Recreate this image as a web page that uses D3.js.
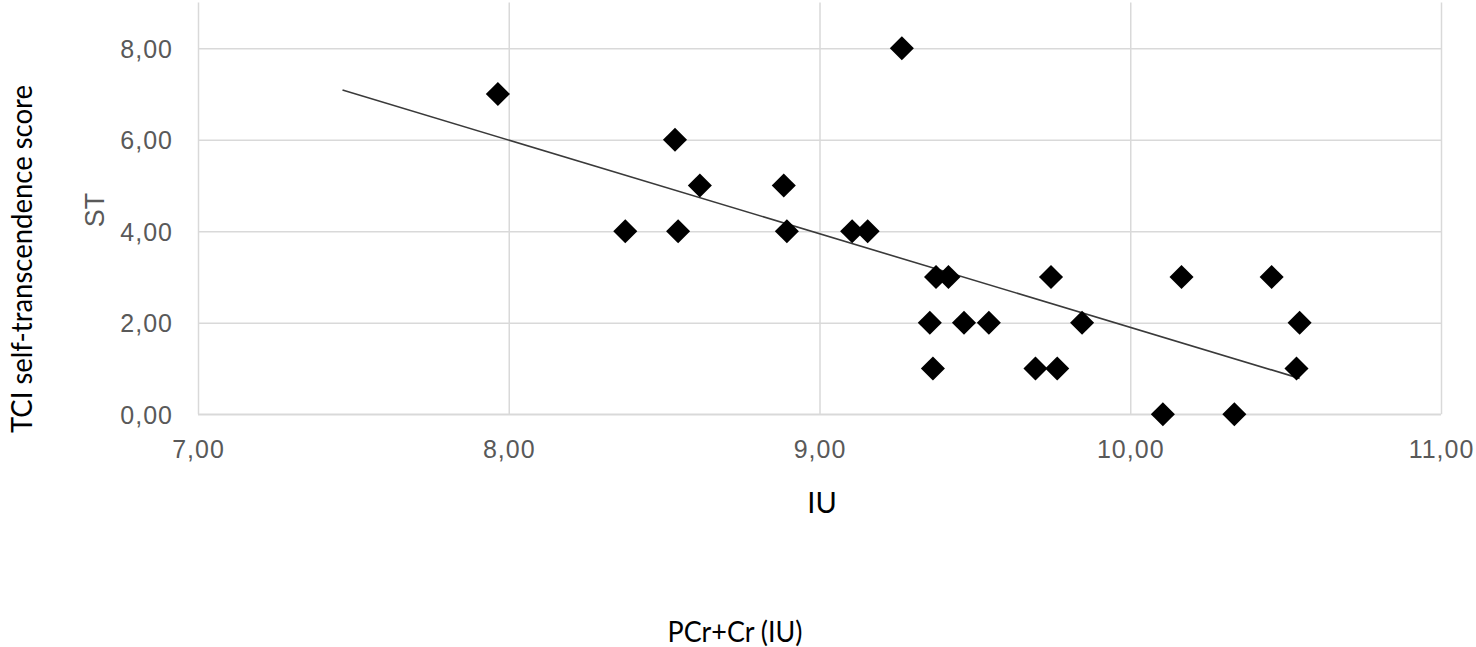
<!DOCTYPE html>
<html>
<head>
<meta charset="utf-8">
<script src="https://cdn.jsdelivr.net/npm/d3@7/dist/d3.min.js"></script>
<style>
  html, body { margin: 0; padding: 0; background: #fff; }
  svg { display: block; }
</style>
</head>
<body>
<svg id="chart" width="1476" height="647"></svg>
<script>
// ---- data ----
const pcrValues = [7.965, 9.265, 8.535, 8.615, 8.885, 8.375, 8.545, 8.895, 9.105, 9.155,
                   9.375, 9.415, 9.745, 10.165, 10.455, 9.355, 9.465, 9.545, 9.845, 10.545,
                   9.365, 9.695, 9.765, 10.535, 10.105, 10.335];
const stValues  = [7, 8, 6, 5, 5, 4, 4, 4, 4, 4,
                   3, 3, 3, 3, 3, 2, 2, 2, 2, 2,
                   1, 1, 1, 1, 0, 0];
const xTicks = [7, 8, 9, 10, 11];
const yTicks = [0, 2, 4, 6, 8];
const xDomain = [7, 11];
const yDomain = [0, 9];
const trendBackward = 0.5;   // trendline forecast backward (x units)

const points = pcrValues.map((x, i) => ({ x, y: stValues[i] }));

// ---- layout ----
const svg = d3.select("#chart");
const plot = { left: 198, right: 1441, top: 2.5, bottom: 414.3 };

const x = d3.scaleLinear().domain(xDomain).range([plot.left, plot.right]);
const y = d3.scaleLinear().domain(yDomain).range([plot.bottom, plot.top]);

const fmt = v => d3.format(".2f")(v).replace(".", ",");
const grid = "#d9d9d9";
const tickColor = "#595959";

// horizontal gridlines
const yAxis = d3.axisLeft(y).tickValues(yTicks).tickSize(-(plot.right - plot.left)).tickFormat(fmt).tickPadding(25);
const gy = svg.append("g").attr("transform", `translate(${plot.left},0)`).call(yAxis);
gy.select(".domain").remove();
gy.selectAll(".tick line").attr("stroke", grid).attr("stroke-width", 1.5);
gy.selectAll(".tick text")
  .attr("fill", tickColor)
  .style("font-family", "'Liberation Sans', Arial, sans-serif")
  .style("font-size", "25px")
  .style("letter-spacing", "1px")
  .attr("dy", "0.36em");

// vertical gridlines
const xAxis = d3.axisBottom(x).tickValues(xTicks).tickSize(-(plot.bottom - plot.top)).tickFormat(fmt).tickPadding(26);
const gx = svg.append("g").attr("transform", `translate(0,${plot.bottom})`).call(xAxis);
gx.select(".domain").remove();
gx.selectAll(".tick line").attr("stroke", grid).attr("stroke-width", 1.5);
gx.selectAll(".tick text")
  .attr("fill", tickColor)
  .style("font-family", "'Liberation Sans', Arial, sans-serif")
  .style("font-size", "25px")
  .style("letter-spacing", "1px");

// bottom axis line
svg.append("line")
  .attr("x1", x(xDomain[0])).attr("x2", x(xDomain[1]))
  .attr("y1", y(0)).attr("y2", y(0))
  .attr("stroke", grid).attr("stroke-width", 1.5);

// ---- linear trendline (least squares) ----
const mx = d3.mean(pcrValues), my = d3.mean(stValues);
let sxy = 0, sxx = 0;
points.forEach(p => { sxy += (p.x - mx) * (p.y - my); sxx += (p.x - mx) ** 2; });
const slope = sxy / sxx, intercept = my - slope * mx;
const tx0 = d3.min(pcrValues) - trendBackward, tx1 = d3.max(pcrValues);
const trend = [{ x: tx0, y: intercept + slope * tx0 }, { x: tx1, y: intercept + slope * tx1 }];

svg.append("path")
  .datum(trend)
  .attr("fill", "none")
  .attr("stroke", "#3a3a3a")
  .attr("stroke-width", 1.6)
  .attr("d", d3.line().x(d => x(d.x)).y(d => y(d.y)));

// ---- markers (diamonds) ----
const diamond = d3.symbol().type(d3.symbolSquare).size(290);
svg.append("g").selectAll("path")
  .data(points)
  .join("path")
  .attr("d", diamond)
  .attr("fill", "#000")
  .attr("transform", d => `translate(${x(d.x)},${y(d.y)}) rotate(45)`);

// ---- axis titles ----
svg.append("text")
  .attr("transform", `translate(104,210) rotate(-90)`)
  .attr("text-anchor", "middle")
  .attr("fill", tickColor)
  .style("font-family", "'Liberation Sans', Arial, sans-serif")
  .style("font-size", "27px")
  .text("ST");

svg.append("text")
  .attr("x", 822).attr("y", 513)
  .attr("text-anchor", "middle")
  .attr("fill", "#000")
  .style("font-family", "Lato, 'Open Sans', sans-serif")
  .style("font-size", "29px")
  .text("IU");

svg.append("text")
  .attr("transform", `translate(32,259) rotate(-90)`)
  .attr("text-anchor", "middle")
  .attr("fill", "#000")
  .style("font-family", "Lato, 'Open Sans', sans-serif")
  .style("font-size", "29px")
  .attr("textLength", 348)
  .attr("lengthAdjust", "spacingAndGlyphs")
  .text("TCI self-transcendence score");

svg.append("text")
  .attr("x", 735).attr("y", 642)
  .attr("text-anchor", "middle")
  .attr("fill", "#000")
  .style("font-family", "Lato, 'Open Sans', sans-serif")
  .style("font-size", "29px")
  .attr("textLength", 135)
  .attr("lengthAdjust", "spacingAndGlyphs")
  .text("PCr+Cr (IU)");
</script>
</body>
</html>
